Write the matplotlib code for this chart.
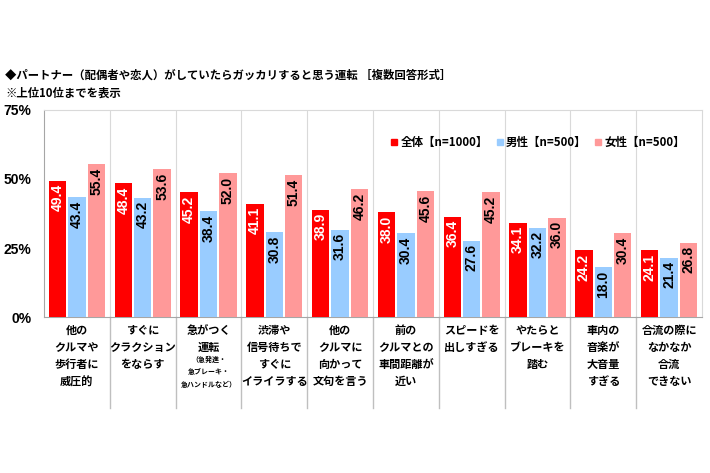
import numpy as np
import matplotlib
matplotlib.use("Agg")
import matplotlib.pyplot as plt
from matplotlib.lines import Line2D

plt.rcParams["font.family"] = ["Noto Sans CJK JP", "DejaVu Sans"]

title1 = "◆パートナー（配偶者や恋人）がしていたらガッカリすると思う運転 ［複数回答形式］"
title2 = "※上位10位までを表示"

cats = ["他の\nクルマや\n歩行者に\n威圧的",
        "すぐに\nクラクション\nをならす",
        "急がつく\n運転",
        "渋滞や\n信号待ちで\nすぐに\nイライラする",
        "他の\nクルマに\n向かって\n文句を言う",
        "前の\nクルマとの\n車間距離が\n近い",
        "スピードを\n出しすぎる",
        "やたらと\nブレーキを\n踏む",
        "車内の\n音楽が\n大音量\nすぎる",
        "合流の際に\nなかなか\n合流\nできない"]
sub_note = "（急発進・\n急ブレーキ・\n急ハンドルなど）"

series = ["全体【n=1000】", "男性【n=500】", "女性【n=500】"]
v_all = [49.4, 48.4, 45.2, 41.1, 38.9, 38.0, 36.4, 34.1, 24.2, 24.1]
v_male = [43.4, 43.2, 38.4, 30.8, 31.6, 30.4, 27.6, 32.2, 18.0, 21.4]
v_female = [55.4, 53.6, 52.0, 51.4, 46.2, 45.6, 45.2, 36.0, 30.4, 26.8]
yticks = [0, 25, 50, 75]

colors = ["#FF0000", "#99CCFF", "#FF9999"]
txtcol = ["white", "black", "black"]

fig = plt.figure(figsize=(7.1, 4.73), dpi=100)
ax = fig.add_axes([44/710, 1-317/473, (702-44)/710, (317-110)/473])

x = np.arange(len(cats))
w = 0.265
offs = [-0.295, 0.0, 0.295]
for k, vals in enumerate([v_all, v_male, v_female]):
    ax.bar(x + offs[k], vals, width=w, color=colors[k], zorder=3)
    for xi, v in zip(x, vals):
        ax.text(xi + offs[k], v - 1.2, "%.1f" % v, rotation=90, ha="center", va="top",
                fontsize=10, fontweight="bold", color=txtcol[k],
                family="Liberation Sans", zorder=4)

ax.set_xlim(-0.5, len(cats) - 0.5)
ax.set_ylim(0, 75)
ax.set_yticks(yticks)
ax.set_yticklabels(["%d%%" % t for t in yticks], fontsize=10, fontweight="bold",
                   family="Liberation Sans")
ax.tick_params(axis="y", length=0, pad=9)
ax.set_xticks([])

for b in np.arange(0.5, len(cats) - 1, 1.0):
    ax.axvline(b, color="#D9D9D9", lw=0.8, zorder=1)
    ax.plot([b, b], [0, -0.44], transform=ax.get_xaxis_transform(),
            color="#BFBFBF", lw=1.0, clip_on=False)

for s in ["top", "right"]:
    ax.spines[s].set_color("#D9D9D9")
ax.spines["left"].set_color("#A6A6A6")
ax.spines["bottom"].set_color("#A6A6A6")

trans = ax.get_xaxis_transform()
for i, c in enumerate(cats):
    ax.text(i, -0.035, c, transform=trans, ha="center", va="top", fontsize=8,
            fontweight="bold", linespacing=1.4)
ax.text(2, -0.185, sub_note, transform=trans, ha="center", va="top", fontsize=5,
        fontweight="bold", linespacing=1.9)

handles = [Line2D([], [], marker="s", ls="", color=c, markersize=4.5) for c in colors]
leg = ax.legend(handles, series, loc="center right", bbox_to_anchor=(0.99, 0.845),
                ncol=3, frameon=False, handletextpad=0.05, columnspacing=0.5,
                handlelength=1.0, prop={"weight": "bold", "size": 8.3})

fig.text(5/710, 1-75/473, title1, fontsize=8.2, fontweight="bold", va="center")
fig.text(5/710, 1-93/473, title2, fontsize=8.2, fontweight="bold", va="center")

fig.savefig("out.png", dpi=100)
